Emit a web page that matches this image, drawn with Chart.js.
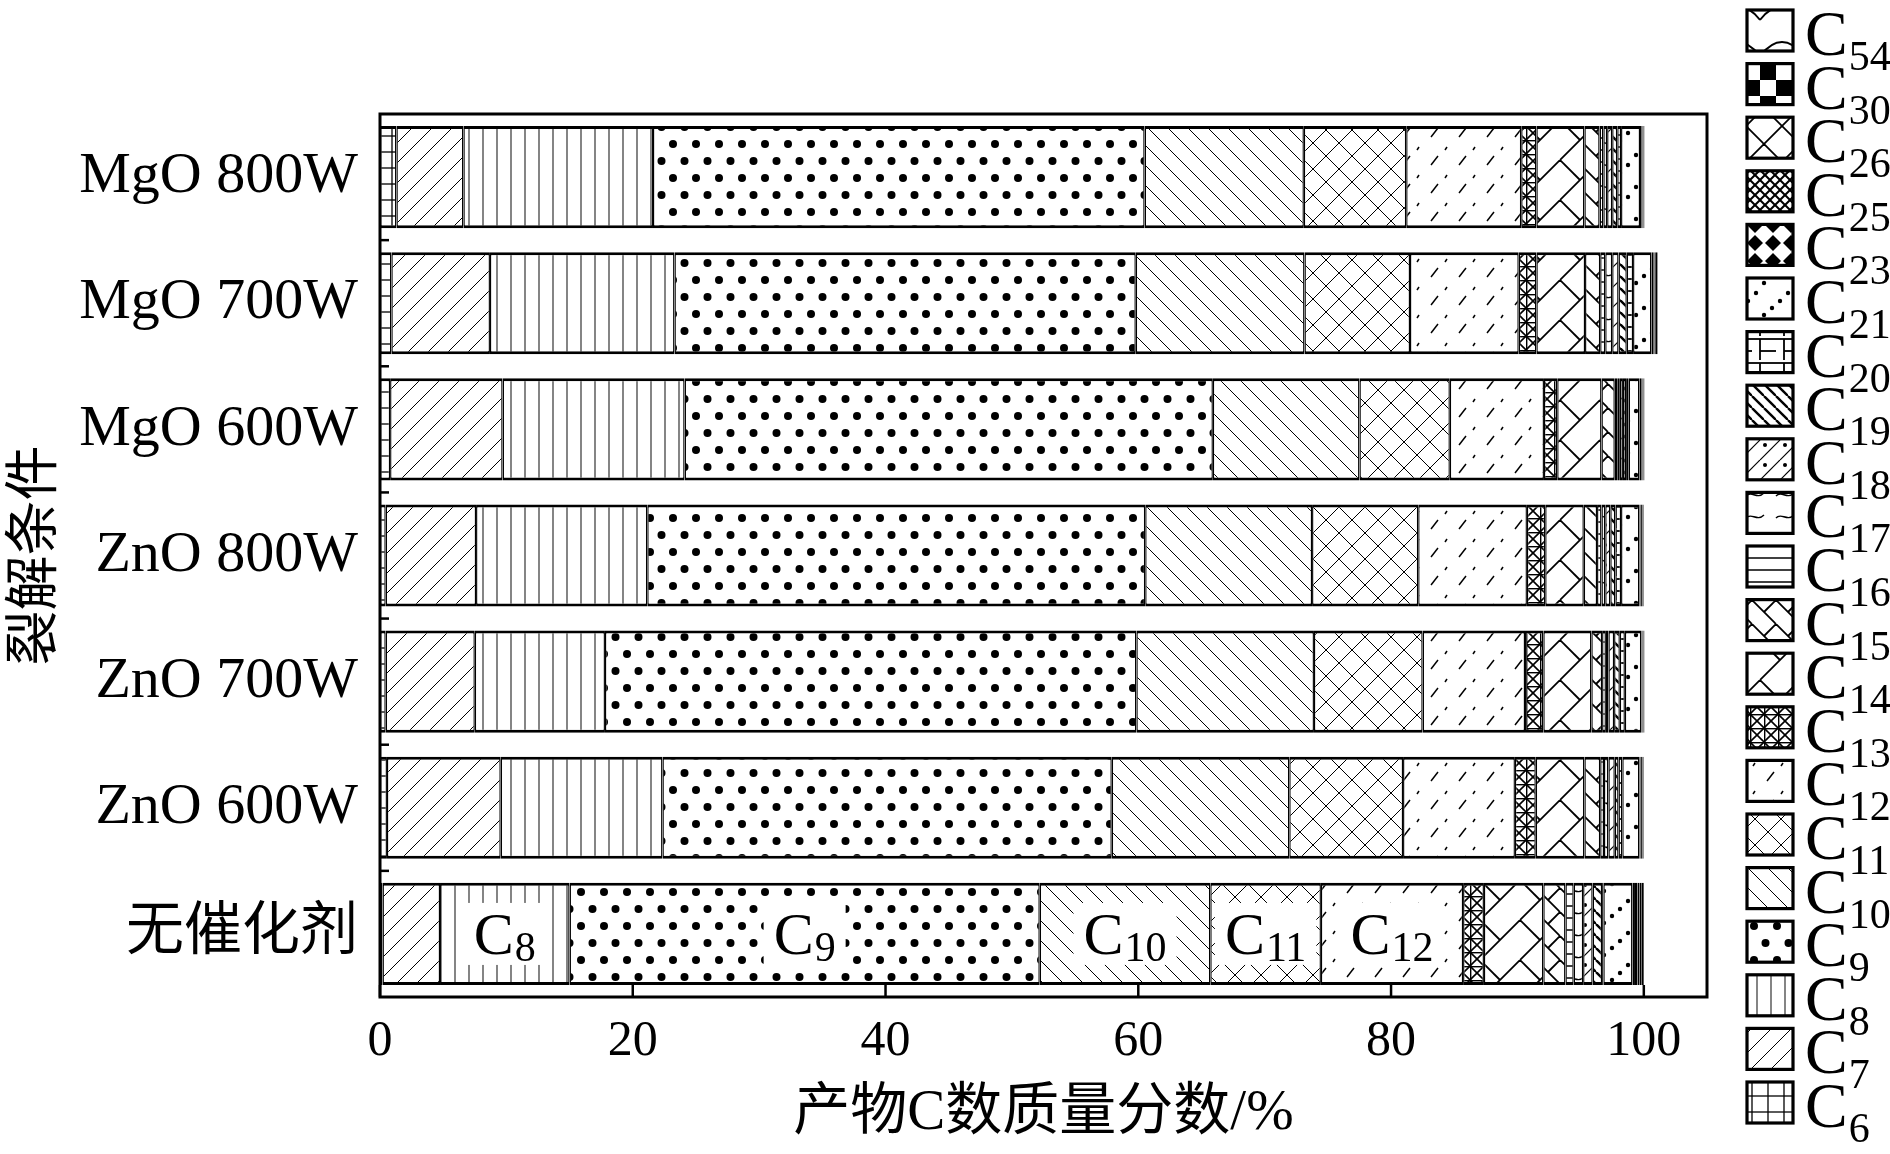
<!DOCTYPE html>
<html>
<head>
<meta charset="utf-8">
<title>产物C数质量分数</title>
<script src="https://cdn.jsdelivr.net/npm/chart.js@4.4.1/dist/chart.umd.min.js"></script>
<style>
  html, body { margin: 0; padding: 0; background: #fff; }
</style>
</head>
<body>
<canvas id="chart" width="1890" height="1154"></canvas>
<script>
// categories (top to bottom) and carbon numbers
const categories = ["MgO 800W", "MgO 700W", "MgO 600W", "ZnO 800W", "ZnO 700W", "ZnO 600W", "无催化剂"];
const carbonNumbers = [6, 7, 8, 9, 10, 11, 12, 13, 14, 15, 16, 17, 18, 19, 20, 21, 23, 25, 26, 30, 54];
const xTicks = [0, 20, 40, 60, 80, 100];

// mass fraction (%) of each carbon number, one value per category
const c6  = [1.3, 0.9, 0.8, 0.45, 0.45, 0.55, 0.2];
const c7  = [5.3, 7.8, 8.9, 7.15, 7.05, 9.0, 4.55];
const c8  = [15.0, 14.6, 14.4, 13.55, 10.3, 12.8, 10.25];
const c9  = [38.9, 36.5, 41.8, 39.4, 42.05, 35.55, 37.2];
const c10 = [12.6, 13.35, 11.6, 13.2, 14.05, 14.05, 13.5];
const c11 = [8.1, 8.35, 7.15, 8.4, 8.6, 9.0, 8.75];
const c12 = [9.1, 8.6, 7.45, 8.6, 8.1, 8.85, 11.25];
const c13 = [1.2, 1.4, 1.05, 1.45, 1.45, 1.65, 1.65];
const c14 = [3.8, 3.85, 3.5, 3.05, 3.8, 3.85, 4.7];
const c15 = [1.2, 1.2, 1.05, 1.05, 0.85, 1.25, 1.75];
const c16 = [0.3, 0.4, 0.2, 0.35, 0.3, 0.3, 0.65];
const c17 = [0.3, 0.55, 0.2, 0.3, 0.2, 0.35, 0.75];
const c18 = [0.4, 0.5, 0.25, 0.4, 0.45, 0.5, 0.75];
const c19 = [0.4, 0.65, 0.25, 0.4, 0.45, 0.3, 0.75];
const c20 = [0.3, 0.5, 0.2, 0.45, 0.4, 0.3, 0.1];
const c21 = [1.5, 1.45, 0.85, 1.45, 1.3, 1.35, 2.3];
const c23 = [0.1, 0.15, 0.15, 0.1, 0.05, 0.1, 0.2];
const c25 = [0.1, 0.1, 0.1, 0.1, 0.05, 0.1, 0.2];
const c26 = [0.05, 0.1, 0.05, 0.05, 0.05, 0.05, 0.15];
const c30 = [0.05, 0.1, 0.05, 0.05, 0.05, 0.05, 0.15];
const c54 = [0.05, 0.05, 0.05, 0.05, 0.05, 0.05, 0.2];

const seriesValues = [c6, c7, c8, c9, c10, c11, c12, c13, c14, c15, c16, c17, c18, c19, c20, c21, c23, c25, c26, c30, c54];
// carbon numbers labelled inside the "无催化剂" bar
const inBarLabels = [8, 9, 10, 11, 12];

const SERIF = '"Liberation Serif", "Times New Roman", "Noto Sans CJK SC", serif';

// --- hatch patterns ---
function tile(w, h, draw) {
  const c = document.createElement("canvas");
  c.width = w; c.height = h;
  const g = c.getContext("2d");
  g.fillStyle = "#fff";
  g.fillRect(0, 0, w, h);
  g.strokeStyle = "#000";
  g.fillStyle = "#000";
  draw(g, w, h);
  return g.createPattern(c, "repeat");
}
function line(g, x1, y1, x2, y2, lw) {
  g.lineWidth = lw;
  g.beginPath(); g.moveTo(x1, y1); g.lineTo(x2, y2); g.stroke();
}
function dot(g, x, y, r) {
  g.beginPath(); g.arc(x, y, r, 0, Math.PI * 2); g.fill();
}
function slash(g, s, lw) {
  for (let k = -1; k <= 1; k++) line(g, k * s, s, k * s + s, 0, lw);
}
function backslash(g, s, lw) {
  for (let k = -1; k <= 1; k++) line(g, k * s, 0, k * s + s, s, lw);
}

const patterns = {
  6: tile(16, 16, (g) => { line(g, 8, 0, 8, 16, 1.3); line(g, 0, 8, 16, 8, 1.3); }),
  7: tile(20, 20, (g) => slash(g, 20, 1)),
  8: tile(14, 10, (g) => { g.strokeStyle = "#333"; line(g, 7, 0, 7, 10, 1.2); }),
  9: tile(23, 34, (g) => { dot(g, 6, 8, 4); dot(g, 17.5, 25, 4); }),
  10: tile(20, 20, (g) => backslash(g, 20, 1)),
  11: tile(26, 26, (g) => { slash(g, 26, 1); backslash(g, 26, 1); }),
  12: tile(28, 28, (g) => { line(g, 3, 25, 10, 16, 1.5); line(g, 17, 10, 19, 7, 1.5); }),
  13: tile(14, 14, (g) => { line(g, 0, 0.5, 14, 0.5, 1.8); line(g, 0.5, 0, 0.5, 14, 1.8); slash(g, 14, 1.6); backslash(g, 14, 1.6); }),
  14: tile(40, 40, (g) => { slash(g, 40, 1.8); line(g, 0, 0, 20, 20, 1.8); }),
  15: tile(24, 24, (g) => { backslash(g, 24, 1.8); line(g, 12, 12, 24, 0, 1.8); }),
  16: tile(10, 12, (g) => line(g, 0, 6, 10, 6, 1.5)),
  17: tile(30, 22, (g) => {
    g.lineWidth = 1.4; g.beginPath(); g.moveTo(6, 12);
    g.bezierCurveTo(11, 6, 17, 16, 24, 9); g.stroke();
  }),
  18: tile(20, 20, (g) => { slash(g, 20, 1.2); dot(g, 5, 5, 2); }),
  19: tile(12, 12, (g) => backslash(g, 12, 2.4)),
  20: tile(24, 24, (g) => { line(g, 0, 3, 24, 3, 1.8); line(g, 8, 3, 8, 24, 1.8); line(g, 8, 15, 24, 15, 1.8); }),
  21: tile(32, 32, (g) => { dot(g, 4, 27, 2.2); dot(g, 12, 20, 2.2); dot(g, 20, 13, 2.2); dot(g, 28, 5, 2.2); }),
  23: tile(18, 18, (g) => {
    g.beginPath(); g.moveTo(9, 1); g.lineTo(17, 9); g.lineTo(9, 17); g.lineTo(1, 9); g.closePath(); g.fill();
  }),
  25: tile(10, 10, (g) => { slash(g, 10, 2); backslash(g, 10, 2); }),
  26: tile(36, 36, (g) => { slash(g, 36, 1.8); backslash(g, 36, 1.8); }),
  30: tile(32, 32, (g) => { g.fillRect(0, 0, 16, 16); g.fillRect(16, 16, 16, 16); }),
  54: tile(44, 36, (g) => {
    g.lineWidth = 1.8; g.beginPath(); g.moveTo(0, 20);
    g.quadraticCurveTo(22, -8, 44, 20); g.stroke();
  })
};

const datasets = carbonNumbers.map((n, i) => ({
  label: "C" + n,
  data: seriesValues[i],
  backgroundColor: patterns[n],
  borderColor: "#000",
  borderWidth: { top: 3, bottom: 3, left: 1.4, right: 1.4 },
  borderSkipped: false,
  barPercentage: 0.81,
  categoryPercentage: 1
}));

// "C" with a subscript number
function drawCarbon(ctx, x, yBase, n, big, small, subDrop) {
  ctx.font = big + "px " + SERIF;
  ctx.textAlign = "left";
  ctx.textBaseline = "alphabetic";
  ctx.fillText("C", x, yBase);
  const wc = ctx.measureText("C").width;
  ctx.font = small + "px " + SERIF;
  ctx.fillText(String(n), x + wc + 1, yBase + subDrop);
}
function carbonWidth(ctx, n, big, small) {
  ctx.font = big + "px " + SERIF;
  const wc = ctx.measureText("C").width;
  ctx.font = small + "px " + SERIF;
  return wc + 1 + ctx.measureText(String(n)).width;
}

const decorPlugin = {
  id: "decor",
  afterDatasetsDraw(chart) {
    const ctx = chart.ctx;
    const last = categories.length - 1;
    ctx.save();
    inBarLabels.forEach((n) => {
      const di = carbonNumbers.indexOf(n);
      const el = chart.getDatasetMeta(di).data[last];
      const cx = (el.x + el.base) / 2;
      const cy = el.y;
      const w = carbonWidth(ctx, n, 60, 42);
      ctx.fillStyle = "#fff";
      ctx.fillRect(cx - w / 2 - 10, cy - 31, w + 20, 62);
      ctx.fillStyle = "#000";
      drawCarbon(ctx, cx - w / 2, cy + 20, n, 60, 42, 7);
    });
    ctx.restore();
  },
  afterDraw(chart) {
    const ctx = chart.ctx;
    const a = chart.chartArea;
    const xs = chart.scales.x;
    const ys = chart.scales.y;
    ctx.save();
    ctx.strokeStyle = "#000";
    ctx.lineWidth = 3;
    ctx.strokeRect(a.left, a.top, a.right - a.left, a.bottom - a.top);
    // inward ticks
    ctx.lineWidth = 2.5;
    xTicks.forEach((v) => {
      const x = xs.getPixelForValue(v);
      ctx.beginPath(); ctx.moveTo(x, a.bottom); ctx.lineTo(x, a.bottom - 12); ctx.stroke();
    });
    for (let i = 0; i < categories.length - 1; i++) {
      const y = (ys.getPixelForValue(i) + ys.getPixelForValue(i + 1)) / 2;
      ctx.beginPath(); ctx.moveTo(a.left, y); ctx.lineTo(a.left + 9, y); ctx.stroke();
    }
    // legend, C54 at top down to C6
    const lx = 1747, top0 = 10, pitch = 53.6, bw = 46, bh = 41;
    const order = carbonNumbers.slice().reverse();
    order.forEach((n, k) => {
      const y = top0 + k * pitch;
      ctx.fillStyle = patterns[n];
      ctx.fillRect(lx, y, bw, bh);
      ctx.lineWidth = 3.2;
      ctx.strokeRect(lx, y, bw, bh);
      ctx.fillStyle = "#000";
      drawCarbon(ctx, lx + bw + 12, y + 45, n, 64, 42, 15);
    });
    ctx.restore();
  }
};

new Chart(document.getElementById("chart"), {
  type: "bar",
  data: { labels: categories, datasets: datasets },
  plugins: [decorPlugin],
  options: {
    indexAxis: "y",
    responsive: false,
    animation: false,
    devicePixelRatio: 1,
    layout: { padding: { left: 0, top: 114, right: 183, bottom: 0 } },
    plugins: {
      legend: { display: false },
      tooltip: { enabled: false }
    },
    scales: {
      x: {
        stacked: true,
        min: 0,
        max: 105,
        afterFit: (s) => { s.height = 157; },
        afterBuildTicks: (s) => { s.ticks = xTicks.map((v) => ({ value: v })); },
        grid: { display: false, drawTicks: false },
        border: { display: false },
        ticks: { color: "#000", padding: 15, font: { family: SERIF, size: 50 } },
        title: {
          display: true,
          text: "产物C数质量分数/%",
          color: "#000",
          padding: { top: 0, bottom: 6 },
          font: { family: SERIF, size: 57 }
        }
      },
      y: {
        stacked: true,
        afterFit: (s) => { s.width = 380; },
        grid: { display: false, drawTicks: false },
        border: { display: false },
        ticks: { color: "#000", padding: 22, font: { family: SERIF, size: 58 } },
        title: {
          display: true,
          text: "裂解条件",
          color: "#000",
          padding: { top: -3, bottom: 0 },
          font: { family: '"Noto Sans CJK SC", sans-serif', size: 55 }
        }
      }
    }
  }
});
</script>
</body>
</html>
